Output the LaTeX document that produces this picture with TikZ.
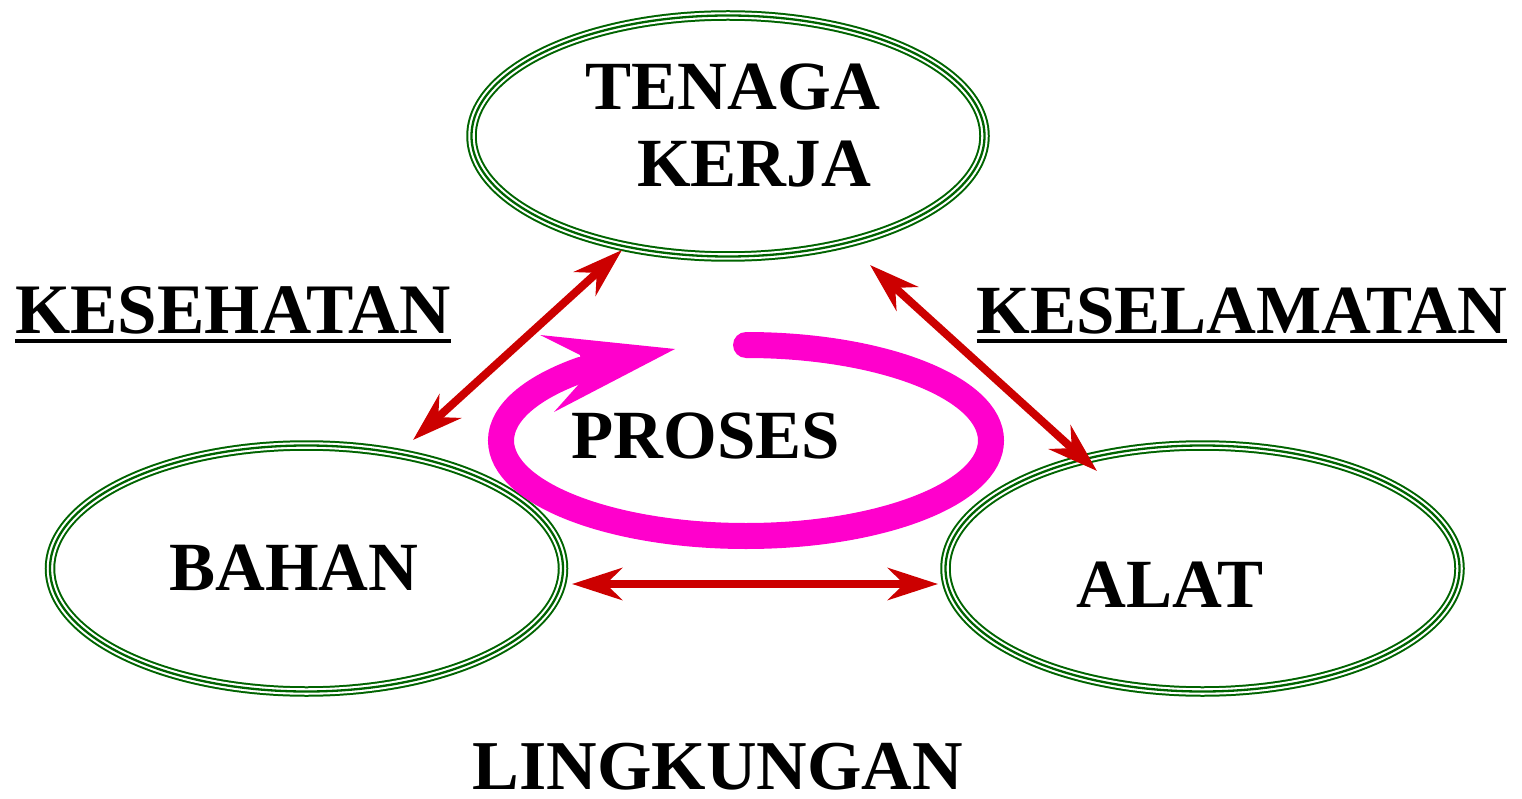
\documentclass[tikz,border=0pt]{standalone}
\usepackage{fontspec}
\setmainfont{Liberation Serif}
\usetikzlibrary{arrows.meta,shapes.geometric}
\definecolor{dgreen}{HTML}{006400}
\definecolor{dred}{HTML}{CC0000}
\definecolor{mag}{HTML}{FF00CC}
\tikzset{
  triple/.style={shape=ellipse, inner sep=0pt, draw=dgreen, line width=10.5pt,
    postaction={draw=white, line width=6.5pt},
    postaction={draw=dgreen, line width=2.3pt}},
  lbl/.style={inner sep=0pt, anchor=base, font=\fontsize{69}{72}\selectfont\bfseries},
  redarrow/.style={draw=dred, line width=8pt,
    {Stealth[length=50pt,width=32pt,inset=16pt]}-{Stealth[length=50pt,width=32pt,inset=16pt]}},
  uline/.style={line width=4pt}
}
\begin{document}
\begin{tikzpicture}[x=1pt,y=1pt]
\useasboundingbox (0,0) rectangle (1522,-799);
% ellipses
\node[triple, minimum width=513pt, minimum height=241pt] (tk) at (728,-136) {};
\node[triple, minimum width=513pt, minimum height=246pt] (bh) at (306.5,-568.5) {};
\node[triple, minimum width=514pt, minimum height=246pt] (al) at (1202.5,-568.5) {};
% labels
\node[lbl] (t1) at (733,-110) {TENAGA};
\node[lbl] (t2) at (754,-187) {KERJA};
\node[lbl] (tb) at (294,-590) {BAHAN};
\node[lbl] (ta) at (1170,-607) {ALAT};
\node[lbl] (tp) at (706,-458) {PROSES};
\node[lbl, font=\fontsize{71}{74}\selectfont\bfseries] (kes) at (233,-334) {KESEHATAN};
\node[lbl] (kel) at (1242,-334) {KESELAMATAN};
\node[lbl, font=\fontsize{70}{74}\selectfont\bfseries] (lin) at (718,-789) {LINGKUNGAN};
\draw[uline] ([yshift=-6.5pt]kes.base west) -- ([yshift=-6.5pt]kes.base east);
\draw[uline] ([yshift=-6.5pt]kel.base west) -- ([yshift=-6.5pt]kel.base east);
% magenta cycle
\coordinate (ps) at (746,-345);
\draw[mag, line width=26pt, line cap=round] (ps) arc[start angle=90, end angle=-228, x radius=245, y radius=95.5] coordinate (pe);
\fill[mag] (540,-335) -- (675,-349) -- (554,-412) -- (579,-384) -- (pe) -- (580,-355) -- cycle;
% red arrows
\coordinate (a1) at (622,-250);
\coordinate (a2) at (413,-440);
\coordinate (b1) at (870,-265);
\coordinate (b2) at (1097,-471);
\coordinate (c1) at (572,-584);
\coordinate (c2) at (938,-584);
\draw[redarrow] (a1) -- (a2);
\draw[redarrow] (b1) -- (b2);
\draw[redarrow] (c1) -- (c2);
\end{tikzpicture}
\end{document}
